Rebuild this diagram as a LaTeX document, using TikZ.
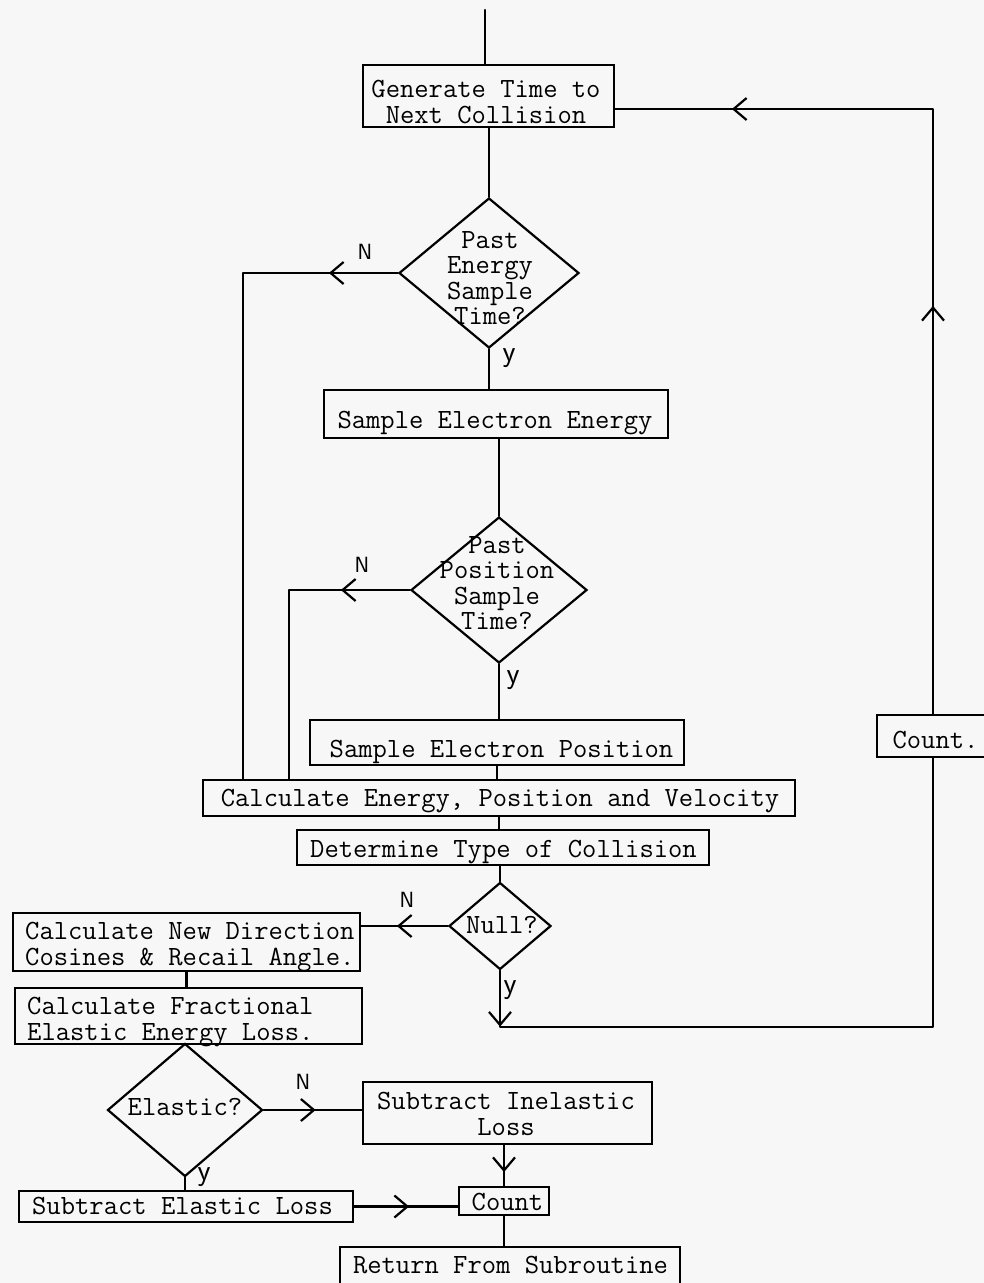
\documentclass[tikz,border=0pt]{standalone}
\usetikzlibrary{shapes.geometric,arrows.meta,decorations.markings}
\begin{document}
\begin{tikzpicture}[x=1pt,y=-1pt,
  ln/.style={line width=2.2pt,line cap=round,line join=round},
  boxe/.style={draw,line width=2.2pt,rectangle,inner sep=0pt},
  dia/.style={draw,line width=2.2pt,diamond,inner sep=0pt},
  tw/.style={inner sep=0pt,font=\ttfamily\fontsize{27.8}{25.5}\selectfont,align=center},
  twl/.style={tw,align=left},
  lab/.style={inner sep=0pt,font=\sffamily\fontsize{22}{22}\selectfont},
  laby/.style={inner sep=0pt,font=\sffamily\fontsize{30}{30}\selectfont},
  arrat/.style={postaction={decorate,decoration={markings,mark=at position #1 with {\arrow{Straight Barb[length=13pt,width=22pt,line width=2.2pt]}}}}}
]
\useasboundingbox (0,0) rectangle (984,1283);
\fill[black!3] (0,0) rectangle (984,1283);
\clip (0,0) rectangle (984,1283);

% boxes and diamonds
\node[boxe, minimum width=251pt, minimum height=62pt] (gen) at (488.5,96) {};
\node[dia, minimum width=180pt, minimum height=150pt] (d1) at (489,273) {};
\node[boxe, minimum width=344pt, minimum height=48pt] (see) at (496,414) {};
\node[dia, minimum width=176pt, minimum height=146pt] (d2) at (499,590) {};
\node[boxe, minimum width=374pt, minimum height=45pt] (sep) at (497,742.5) {};
\node[boxe, minimum width=592pt, minimum height=36pt] (cal) at (499,798) {};
\node[boxe, minimum width=412pt, minimum height=35pt] (det) at (503,847.5) {};
\node[dia, minimum width=102pt, minimum height=87pt] (nul) at (500,926) {};
\node[boxe, minimum width=347pt, minimum height=58pt] (cnd) at (186.5,942) {};
\node[boxe, minimum width=347pt, minimum height=56pt] (cfe) at (188.5,1016) {};
\node[dia, minimum width=155pt, minimum height=133pt] (ela) at (185,1110) {};
\node[boxe, minimum width=289pt, minimum height=62pt] (sil) at (507.5,1113) {};
\node[boxe, minimum width=334pt, minimum height=31pt] (sel) at (186,1206.5) {};
\node[boxe, minimum width=90pt, minimum height=28pt] (cnt) at (504,1201) {};
\node[boxe, minimum width=340pt, minimum height=48pt] (ret) at (510,1271) {};
\node[boxe, minimum width=112pt, minimum height=42pt] (cnr) at (933,736) {};

% texts
\node[tw, anchor=north] (gent) at (486,80) {Generate Time to\\Next Collision};
\node[tw, anchor=north] (d1t) at (490,231) {Past\\Energy\\Sample\\Time?};
\node[tw, anchor=base] (seet) at (495,428) {Sample Electron Energy};
\node[tw, anchor=north] (d2t) at (497,536) {Past\\Position\\Sample\\Time?};
\node[tw, anchor=base] (sept) at (501.5,757) {Sample Electron Position};
\node[tw, anchor=base] (calt) at (500,806) {Calculate Energy, Position and Velocity};
\node[tw, anchor=base] (dett) at (503.5,857) {Determine Type of Collision};
\node[tw, anchor=base] (nult) at (502,933) {Null?};
\node[twl, anchor=north west] (cndt) at (25,922) {Calculate New Direction\\Cosines \& Recail Angle.};
\node[twl, anchor=north west] (cfet) at (27,997) {Calculate Fractional\\Elastic Energy Loss.};
\node[tw, anchor=base] (elat) at (185,1115) {Elastic?};
\node[tw, anchor=north] (silt) at (506,1092) {Subtract Inelastic\\Loss};
\node[tw, anchor=base] (selt) at (182.5,1214) {Subtract Elastic Loss};
\node[tw, anchor=base] (cntt) at (507.5,1210) {Count};
\node[tw, anchor=base] (rett) at (510.5,1273) {Return From Subroutine};
\node[tw, anchor=base] (cnrt) at (935.5,748) {Count.};

% labels
\node[lab] (n1) at (365,252) {N};
\node[laby] (y1) at (509,358) {y};
\node[lab] (n2) at (362,565) {N};
\node[laby] (y2) at (513,680) {y};
\node[lab] (n3) at (407,900) {N};
\node[laby] (y3) at (510,990) {y};
\node[lab] (n4) at (303,1082) {N};
\node[laby] (y4) at (204,1177) {y};

% coordinates
\coordinate (start) at (485,10);
\coordinate (c1) at (243,277);
\coordinate (c2) at (289,592);
\coordinate (yb) at (500,1027);
\coordinate (tr) at (933,109);

% connectors
\draw[ln] (start) -- (start |- gen.north);
\draw[ln] (d1.north |- gen.south) -- (d1.north);
\draw[ln] (d1.south) -- (d1.south |- see.north);
\draw[ln] (d2.north |- see.south) -- (d2.north);
\draw[ln] (d2.south) -- (d2.south |- sep.north);
\draw[ln] (sep.south) -- (sep.south |- cal.north);
\draw[ln] (cal.south) -- (cal.south |- det.north);
\draw[ln] (nul.north |- det.south) -- (nul.north);
\draw[ln, arrat=69pt] (d1.west) -- (d1.west -| c1) -- (c1 |- cal.north);
\draw[ln, arrat=69pt] (d2.west) -- (d2.west -| c2) -- (c2 |- cal.north);
\draw[ln, arrat=51pt] (nul.west) -- (nul.west -| cnd.east);
\draw[ln] (cnd.south) -- (cnd.south |- cfe.north);
\draw[ln, arrat=52pt] (ela.east) -- (ela.east -| sil.west);
\draw[ln] (ela.south) -- (ela.south |- sel.north);
\draw[ln, arrat=55pt] (sel.east) -- (sel.east -| cnt.west);
\draw[ln, arrat=27pt] (cnt.north |- sil.south) -- (cnt.north);
\draw[ln] (cnt.south) -- (cnt.south |- ret.north);
\draw[ln, arrat=56pt] (nul.south) -- (nul.south |- yb) -- (yb -| cnr.south) -- (cnr.south);
\draw[ln, arrat=408pt, arrat=806pt] (cnr.north) -- (cnr.north |- tr) -- (tr -| gen.east);
\end{tikzpicture}
\end{document}
